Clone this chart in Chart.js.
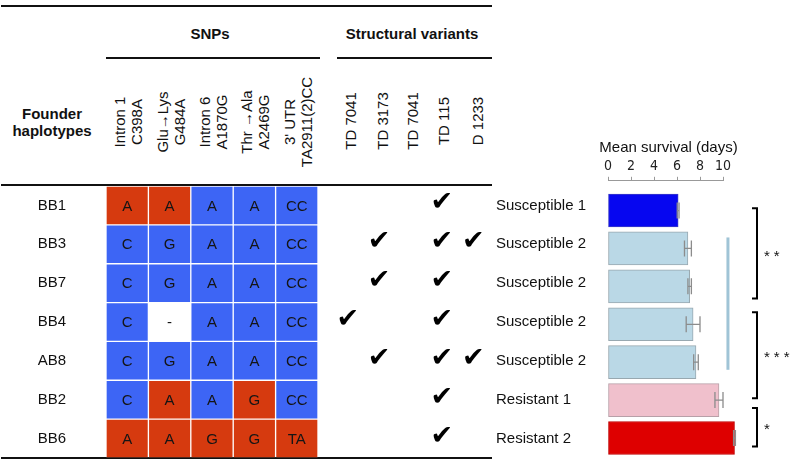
<!DOCTYPE html>
<html>
<head>
<meta charset="utf-8">
<script src="https://cdn.jsdelivr.net/npm/chart.js@4.4.1/dist/chart.umd.min.js"></script>
<style>
  body { margin: 0; background: #fff; font-family: 'Liberation Sans', Arial, sans-serif; color: #111; }
  #page { position: relative; width: 792px; height: 463px; overflow: hidden; }
  .abs { position: absolute; }
  .rule { position: absolute; height: 2px; background: #111; }
  .head { position: absolute; font-weight: bold; font-size: 15px; white-space: nowrap; transform: translate(-50%, -50%); text-align: center; line-height: 17px; }
  .rot { position: absolute; font-size: 15px; white-space: nowrap; text-align: center; line-height: 17px; transform: translate(-50%, -50%) rotate(-90deg); }
  canvas { display: block; }
</style>
</head>
<body>
<div id="page">
  <div class="rule" style="left:1px; top:5px; width:491px;"></div>
  <div class="rule" style="left:106px; top:57px; width:214px;"></div>
  <div class="rule" style="left:337px; top:57px; width:155px;"></div>
  <div class="rule" style="left:1px; top:184px; width:491px;"></div>
  <div class="rule" style="left:1px; top:457px; width:491px;"></div>

  <div class="head" style="left:210px; top:33px;">SNPs</div>
  <div class="head" style="left:412px; top:33px;">Structural variants</div>
  <div class="head" style="left:52px; top:122px;">Founder<br>haplotypes</div>
  <div id="snpHeads"></div>
  <div id="svHeads"></div>

  <div class="abs" style="left:0; top:186px; width:318px; height:272px;"><canvas id="grafico-snps"></canvas></div>
  <div class="abs" style="left:335px; top:186px; width:257px; height:272px;"><canvas id="grafico-variantes"></canvas></div>
  <div class="abs" style="left:590px; top:120px; width:202px; height:343px;"><canvas id="grafico-sobrevida"></canvas></div>
</div>

<script>
// dados
const haplotipos = ['BB1', 'BB3', 'BB7', 'BB4', 'AB8', 'BB2', 'BB6'];
const snpNomes = [['Intron 1', 'C398A'], ['Glu\u2192Lys', 'G484A'], ['Intron 6', 'A1870G'], ['Thr \u2192Ala', 'A2469G'], ["3' UTR", 'TA2911(2)CC']];
const snpReferencia = ['C', 'G', 'A', 'A', 'CC'];
const alelos = [
    ['A', 'A', 'A', 'A', 'CC'],
    ['C', 'G', 'A', 'A', 'CC'],
    ['C', 'G', 'A', 'A', 'CC'],
    ['C', '-', 'A', 'A', 'CC'],
    ['C', 'G', 'A', 'A', 'CC'],
    ['C', 'A', 'A', 'G', 'CC'],
    ['A', 'A', 'G', 'G', 'TA']
];
const variantes = ['TD 7041', 'TD 3173', 'TD 7041', 'TD 115', 'D 1233'];
const presencaVariantes = [
    [0, 0, 0, 1, 0],
    [0, 1, 0, 1, 1],
    [0, 1, 0, 1, 0],
    [1, 0, 0, 1, 0],
    [0, 1, 0, 1, 1],
    [0, 0, 0, 1, 0],
    [0, 0, 0, 1, 0]
];
const fenotipos = ['Susceptible 1', 'Susceptible 2', 'Susceptible 2', 'Susceptible 2', 'Susceptible 2', 'Resistant 1', 'Resistant 2'];
const tituloSobrevida = 'Mean survival (days)';
const sobrevida = [6.1, 6.95, 7.1, 7.4, 7.65, 9.65, 11.0];
const sobrevidaErro = [0.08, 0.3, 0.15, 0.6, 0.2, 0.35, 0.08];
const sobrevidaTicks = [0, 2, 4, 6, 8, 10];
// colchetes de significancia (em unidades de linha)
const significancia = [
    { de: -0.06, ate: 2.32, rotulo: '**' },
    { de: 2.68, ate: 4.95, rotulo: '***' },
    { de: 5.21, ate: 6.22, rotulo: '*' }
];

const AZUL = 'rgb(61, 101, 245)';
const VERMELHO = 'rgb(214, 58, 15)';
const FONTE = "'Liberation Sans', Arial, sans-serif";

Chart.defaults.font.family = FONTE;
Chart.defaults.font.size = 15;
Chart.defaults.color = '#111';

// cabeçalhos girados
function montarCabecalhos() {
    const snp = document.getElementById('snpHeads');
    snpNomes.forEach((linhas, i) => {
        const d = document.createElement('div');
        d.className = 'rot';
        d.style.left = (106 + 42.4 * (i + 0.5) + 1) + 'px';
        d.style.top = '122px';
        d.innerHTML = linhas.join('<br>');
        snp.appendChild(d);
    });
    const sv = document.getElementById('svHeads');
    const centros = [350, 382, 412, 443, 477];
    variantes.forEach((nome, i) => {
        const d = document.createElement('div');
        d.className = 'rot';
        d.style.left = centros[i] + 'px';
        d.style.top = '121px';
        d.textContent = nome;
        sv.appendChild(d);
    });
}

function corAlelo(a, c) {
    if (a === '-') return '#ffffff';
    return a === snpReferencia[c] ? AZUL : VERMELHO;
}

// tira o espaço extra que o eixo y reserva em cima e embaixo
function eixoLateral(largura) {
    return function (s) {
        s.width = largura;
        s.paddingTop = 0;
        s.paddingBottom = 0;
    };
}

function graficoSnps() {
    const textoCelulas = {
        id: 'textoCelulas',
        afterDatasetsDraw(chart) {
            const ctx = chart.ctx;
            ctx.save();
            ctx.font = '15px ' + FONTE;
            ctx.fillStyle = '#151515';
            ctx.textAlign = 'center';
            ctx.textBaseline = 'middle';
            chart.data.datasets.forEach((ds, c) => {
                chart.getDatasetMeta(c).data.forEach((el, r) => {
                    ctx.fillText(alelos[r][c], (el.x + el.base) / 2, el.y + 1);
                });
            });
            ctx.restore();
        }
    };

    const ctx = document.getElementById('grafico-snps').getContext('2d');
    new Chart(ctx, {
        type: 'bar',
        data: {
            labels: haplotipos,
            datasets: snpNomes.map((n, c) => ({
                label: n.join(' '),
                data: haplotipos.map(() => [c, c + 1]),
                backgroundColor: alelos.map(linha => corAlelo(linha[c], c)),
                borderColor: 'rgba(255, 255, 255, 0.08)',
                borderWidth: 1,
                borderSkipped: false,
                grouped: false,
                barPercentage: 1,
                categoryPercentage: 1
            }))
        },
        options: {
            indexAxis: 'y',
            responsive: true,
            maintainAspectRatio: false,
            animation: false,
            layout: { padding: 0 },
            plugins: { legend: { display: false }, tooltip: { enabled: false } },
            scales: {
                x: { type: 'linear', min: 0, max: 5, display: false },
                y: {
                    position: 'left',
                    grid: { display: false, drawTicks: false },
                    border: { display: false },
                    ticks: { color: '#111', font: { size: 15, family: FONTE }, padding: 40, crossAlign: 'center' },
                    afterFit: eixoLateral(106)
                }
            }
        },
        plugins: [textoCelulas]
    });
}

function graficoVariantes() {
    const pontos = [];
    presencaVariantes.forEach((linha, r) => {
        linha.forEach((v, c) => { if (v) pontos.push({ x: c, y: r }); });
    });

    const marcas = {
        id: 'marcas',
        afterDatasetsDraw(chart) {
            const ctx = chart.ctx;
            ctx.save();
            ctx.font = '27px "DejaVu Sans"';
            ctx.fillStyle = '#000';
            ctx.textAlign = 'center';
            ctx.textBaseline = 'middle';
            chart.getDatasetMeta(0).data.forEach(el => {
                ctx.fillText('\u2714', el.x - 3, el.y - 2);
            });
            ctx.restore();
        }
    };

    const ctx = document.getElementById('grafico-variantes').getContext('2d');
    new Chart(ctx, {
        type: 'scatter',
        data: {
            datasets: [{ label: 'Structural variants', data: pontos, pointRadius: 0, pointHoverRadius: 0 }]
        },
        options: {
            responsive: true,
            maintainAspectRatio: false,
            animation: false,
            layout: { padding: 0 },
            plugins: { legend: { display: false }, tooltip: { enabled: false } },
            scales: {
                x: { type: 'linear', min: -0.5, max: 4.5, display: false },
                y: {
                    type: 'linear',
                    min: -0.5,
                    max: 6.5,
                    reverse: true,
                    position: 'right',
                    afterBuildTicks(s) { s.ticks = fenotipos.map((f, i) => ({ value: i })); },
                    grid: { display: false, drawTicks: false },
                    border: { display: false },
                    ticks: {
                        color: '#111',
                        font: { size: 15, family: FONTE },
                        padding: 4,
                        crossAlign: 'near',
                        callback: (v) => fenotipos[v]
                    },
                    afterFit: eixoLateral(100)
                }
            }
        },
        plugins: [marcas]
    });
}

function graficoSobrevida() {
    const extras = {
        id: 'extras',
        afterDatasetsDraw(chart) {
            const ctx = chart.ctx;
            const x = chart.scales.x;
            const y = chart.scales.y;
            ctx.save();
            // título do eixo (desenhado aqui para não ser comprimido na largura do eixo)
            ctx.font = '15px ' + FONTE;
            ctx.fillStyle = '#111';
            ctx.textAlign = 'center';
            ctx.textBaseline = 'middle';
            ctx.fillText(tituloSobrevida, (x.left + x.right) / 2 + 3, chart.chartArea.top - 33);
            // barras de erro
            ctx.strokeStyle = '#8c8c8c';
            ctx.lineWidth = 1.3;
            chart.getDatasetMeta(0).data.forEach((el, i) => {
                const x1 = x.getPixelForValue(sobrevida[i] - sobrevidaErro[i]);
                const x2 = x.getPixelForValue(sobrevida[i] + sobrevidaErro[i]);
                ctx.beginPath();
                ctx.moveTo(x1, el.y); ctx.lineTo(x2, el.y);
                ctx.moveTo(x1, el.y - 8); ctx.lineTo(x1, el.y + 8);
                ctx.moveTo(x2, el.y - 8); ctx.lineTo(x2, el.y + 8);
                ctx.stroke();
            });
            // linha azul clara
            ctx.strokeStyle = 'rgb(160, 196, 214)';
            ctx.lineWidth = 3;
            ctx.beginPath();
            ctx.moveTo(x.getPixelForValue(10.43), y.getPixelForValue(0.71));
            ctx.lineTo(x.getPixelForValue(10.43), y.getPixelForValue(4.2));
            ctx.stroke();
            // colchetes
            const bx = chart.chartArea.right + 34;
            ctx.strokeStyle = '#000';
            ctx.lineWidth = 2;
            ctx.textAlign = 'left';
            significancia.forEach(s => {
                const y1 = y.getPixelForValue(s.de);
                const y2 = y.getPixelForValue(s.ate);
                ctx.beginPath();
                ctx.moveTo(bx - 5, y1); ctx.lineTo(bx, y1); ctx.lineTo(bx, y2); ctx.lineTo(bx - 5, y2);
                ctx.stroke();
                ctx.letterSpacing = '4px';
                ctx.fillText(s.rotulo, bx + 7, (y1 + y2) / 2 + 3);
            });
            ctx.restore();
        }
    };

    const ctx = document.getElementById('grafico-sobrevida').getContext('2d');
    new Chart(ctx, {
        type: 'bar',
        data: {
            datasets: [{
                label: tituloSobrevida,
                data: sobrevida.map((v, i) => ({ x: v, y: i })),
                backgroundColor: ['rgb(6, 6, 240)', 'rgb(186, 216, 230)', 'rgb(186, 216, 230)', 'rgb(186, 216, 230)', 'rgb(186, 216, 230)', 'rgb(240, 192, 204)', 'rgb(222, 0, 0)'],
                borderColor: ['rgb(60, 60, 200)', '#98a8b0', '#98a8b0', '#98a8b0', '#98a8b0', '#b8a0a8', 'rgb(190, 0, 0)'],
                borderWidth: 1,
                borderSkipped: false,
                barThickness: 33,
                clip: false
            }]
        },
        options: {
            indexAxis: 'y',
            responsive: true,
            maintainAspectRatio: false,
            animation: false,
            layout: { padding: { left: 18, right: 69, top: 36, bottom: 6 } },
            plugins: { legend: { display: false }, tooltip: { enabled: false } },
            scales: {
                x: {
                    type: 'linear',
                    position: 'top',
                    min: 0,
                    max: 10,
                    afterBuildTicks(s) { s.ticks = sobrevidaTicks.map(v => ({ value: v })); },
                    grid: { drawOnChartArea: false, tickLength: 4, color: '#999' },
                    border: { color: '#999' },
                    ticks: { color: '#222', font: { size: 14, family: "'Liberation Sans Narrow', 'DejaVu Sans Condensed', Arial" }, padding: 2, maxRotation: 0 }
                },
                y: { type: 'linear', min: -0.784, max: 6.5, reverse: true, offset: false, display: false }
            }
        },
        plugins: [extras]
    });
}

document.addEventListener('DOMContentLoaded', () => {
    montarCabecalhos();
    graficoSnps();
    graficoVariantes();
    graficoSobrevida();
});
</script>
</body>
</html>
